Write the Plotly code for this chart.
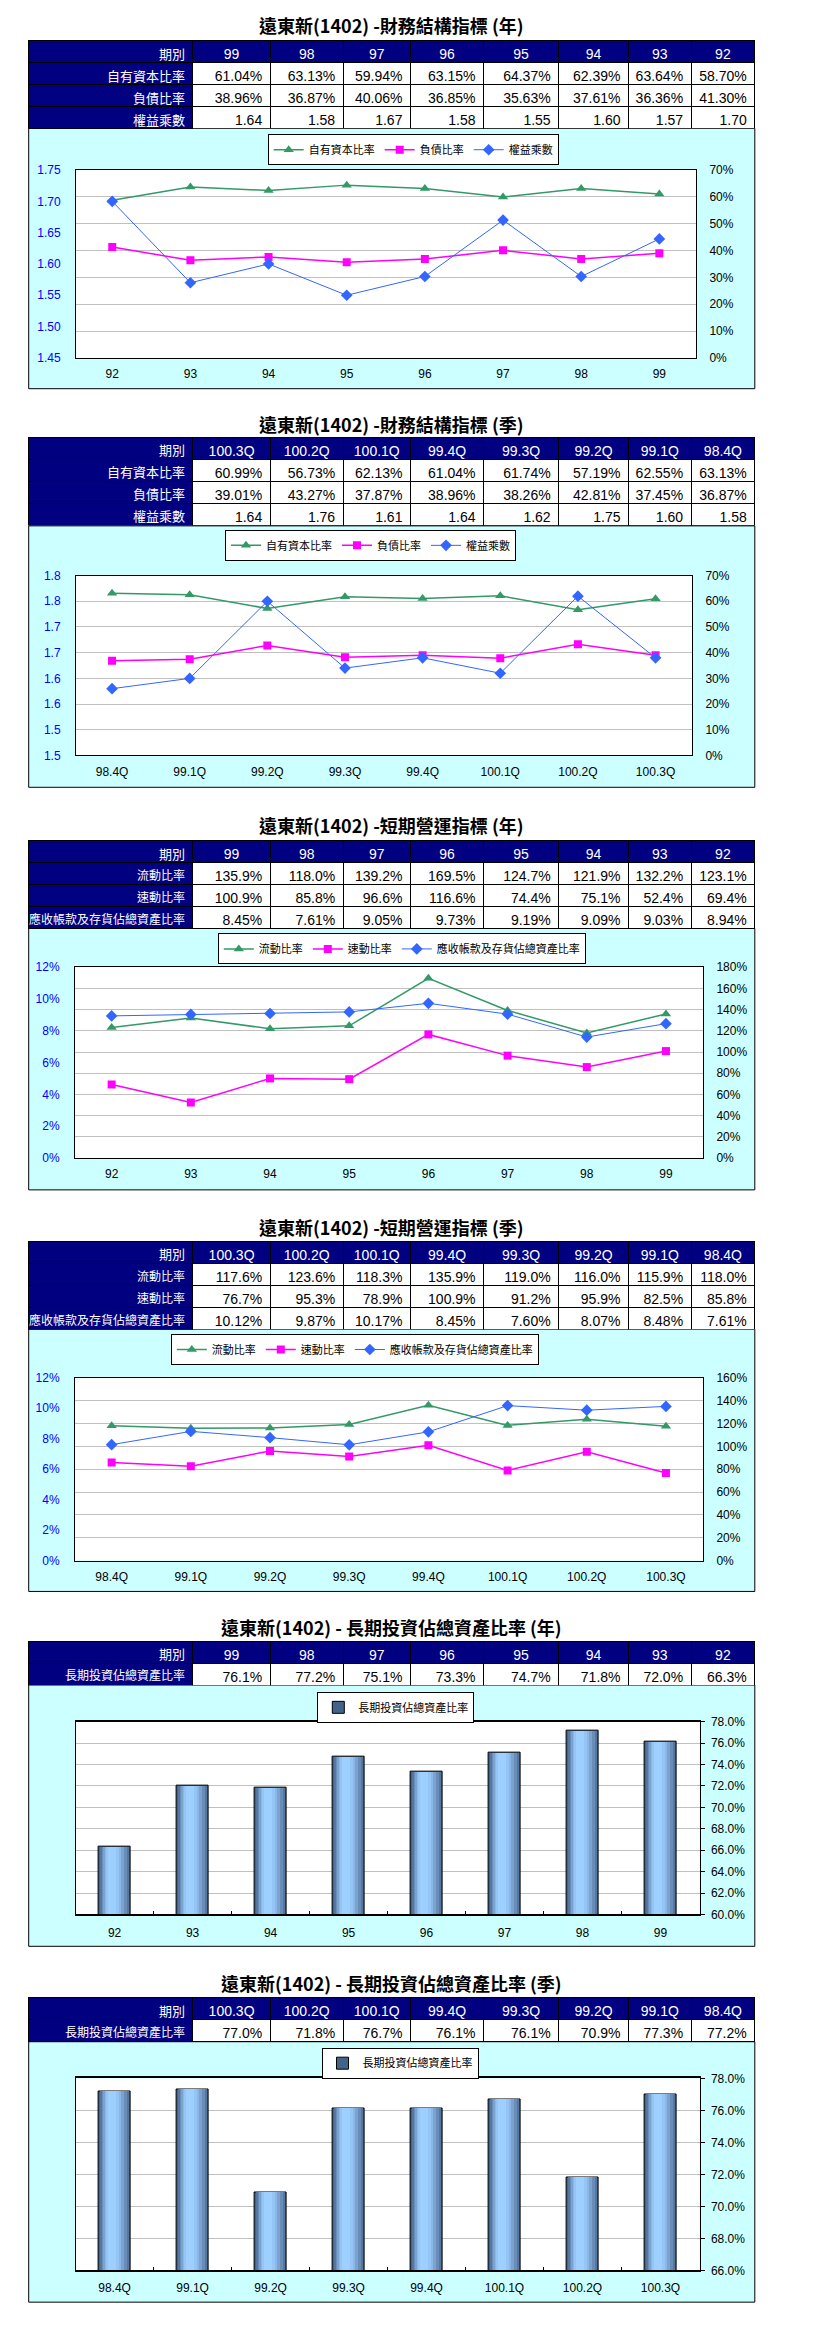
import plotly.graph_objects as go

W, H = 818, 2334
NAVY = '#000080'
FONT = 'Liberation Sans, Noto Sans CJK TC, sans-serif'
CJK = 'Noto Sans CJK TC, Liberation Sans, sans-serif'

# ---------------- data ----------------
years = ['92', '93', '94', '95', '96', '97', '98', '99']
quarters = ['98.4Q', '99.1Q', '99.2Q', '99.3Q', '99.4Q', '100.1Q', '100.2Q', '100.3Q']

titles = [
    '遠東新(1402) -財務結構指標 (年)',
    '遠東新(1402) -財務結構指標 (季)',
    '遠東新(1402) -短期營運指標 (年)',
    '遠東新(1402) -短期營運指標 (季)',
    '遠東新(1402) - 長期投資佔總資產比率 (年)',
    '遠東新(1402) - 長期投資佔總資產比率 (季)',
]

fs_names = ['自有資本比率', '負債比率', '權益乘數']
op_names = ['流動比率', '速動比率', '應收帳款及存貨佔總資產比率']
lt_name = '長期投資佔總資產比率'

# values in chart order (oldest -> newest)
fs_y_equity = [58.70, 63.64, 62.39, 64.37, 63.15, 59.94, 63.13, 61.04]
fs_y_debt = [41.30, 36.36, 37.61, 35.63, 36.85, 40.06, 36.87, 38.96]
fs_y_mult = [1.70, 1.57, 1.60, 1.55, 1.58, 1.67, 1.58, 1.64]

fs_q_equity = [63.13, 62.55, 57.19, 61.74, 61.04, 62.13, 56.73, 60.99]
fs_q_debt = [36.87, 37.45, 42.81, 38.26, 38.96, 37.87, 43.27, 39.01]
fs_q_mult = [1.58, 1.60, 1.75, 1.62, 1.64, 1.61, 1.76, 1.64]

op_y_current = [123.1, 132.2, 121.9, 124.7, 169.5, 139.2, 118.0, 135.9]
op_y_quick = [69.4, 52.4, 75.1, 74.4, 116.6, 96.6, 85.8, 100.9]
op_y_recv = [8.94, 9.03, 9.09, 9.19, 9.73, 9.05, 7.61, 8.45]

op_q_current = [118.0, 115.9, 116.0, 119.0, 135.9, 118.3, 123.6, 117.6]
op_q_quick = [85.8, 82.5, 95.9, 91.2, 100.9, 78.9, 95.3, 76.7]
op_q_recv = [7.61, 8.48, 8.07, 7.60, 8.45, 10.17, 9.87, 10.12]

lt_y = [66.3, 72.0, 71.8, 74.7, 73.3, 75.1, 77.2, 76.1]
lt_q = [77.2, 77.3, 70.9, 76.1, 76.1, 76.7, 71.8, 77.0]

# tick labels
fs_y_left_ticks = [1.45, 1.50, 1.55, 1.60, 1.65, 1.70, 1.75]
fs_y_left_text = ['1.45', '1.50', '1.55', '1.60', '1.65', '1.70', '1.75']
fs_q_left_ticks = [1.45, 1.50, 1.55, 1.60, 1.65, 1.70, 1.75, 1.80]
fs_q_left_text = ['1.5', '1.5', '1.6', '1.6', '1.7', '1.7', '1.8', '1.8']

# ---------------- helpers ----------------
def fx(p):
    return p / W


def fy(p):
    return 1 - p / H


BOX_X0, BOX_X1 = 28.7, 754.8
COLW = [164.3, 77.2, 73.0, 67.3, 73.1, 75.1, 69.9, 62.6, 63.6]
ROWH = 22

fig = go.Figure()
shapes = []
annotations = []
layout_axes = {}


def pct2(v):
    return f'{v:.2f}%'


def pct1(v):
    return f'{v:.1f}%'


def num2(v):
    return f'{v:.2f}'


def add_table(periods, rows, top, label_size=13):
    """rows: list of (label, values in chart order, formatter)"""
    n = len(rows)
    tbl_periods = periods[::-1]
    header = ['期別'] + tbl_periods
    cols = [[r[0] for r in rows]]
    for j in range(len(tbl_periods)):
        cols.append([r[2](r[1][::-1][j]) for r in rows])
    sizes = [label_size] + [14] * len(tbl_periods)
    fills = [[NAVY] * n] + [['white'] * n for _ in tbl_periods]
    fcolors = ['white'] + ['black'] * len(tbl_periods)
    fig.add_trace(go.Table(
        columnwidth=COLW,
        header=dict(values=header, fill_color=NAVY, height=ROWH,
                    align=['right'] + ['center'] * len(tbl_periods),
                    font=dict(color='white', size=[13] + [14] * len(tbl_periods), family=FONT),
                    line=dict(color='black', width=1)),
        cells=dict(values=cols, fill_color=fills, height=ROWH, align='right',
                   font=dict(color=fcolors, size=sizes, family=FONT),
                   line=dict(color='black', width=1)),
        domain=dict(x=[fx(BOX_X0), fx(BOX_X1)],
                    y=[fy(top + ROWH * (n + 1) + 1), fy(top)]),
    ))


def add_title(text, yc):
    annotations.append(dict(text=f'<b>{text}</b>', x=fx(391.7), y=fy(yc), xref='paper', yref='paper',
                            xanchor='center', yanchor='middle', showarrow=False,
                            font=dict(size=18, family=CJK, color='black')))


def add_box(y0, y1):
    shapes.append(dict(type='rect', xref='paper', yref='paper', x0=fx(BOX_X0), x1=fx(BOX_X1),
                       y0=fy(y1), y1=fy(y0), fillcolor='#CCFFFF', line=dict(color='black', width=1),
                       layer='below'))


def add_plotbg(xn, yn):
    shapes.append(dict(type='rect', xref=f'{xn} domain', yref=f'{yn} domain', x0=0, x1=1, y0=0, y1=1,
                       fillcolor='white', line=dict(width=0), layer='below'))


def legend_cfg(cx, top):
    return dict(x=fx(cx), y=fy(top), xanchor='center', yanchor='top', orientation='h',
                bgcolor='white', bordercolor='black', borderwidth=1,
                font=dict(size=11, family=CJK, color='black'), itemwidth=30,
                tracegroupgap=0)


def axname(prefix, k):
    return prefix if k == 1 else f'{prefix}{k}'


def line_section(k, cats, series, plot, main_y, ov_y, legend_pos):
    """series: list of (name, values, color, symbol, msize, lwidth, on_overlay)"""
    xn = axname('x', k)
    ymn = axname('y', 2 * k - 1)
    yon = axname('y', 2 * k)
    leg = axname('legend', k)
    x0, x1, ytop, ybot = plot
    layout_axes[axname('xaxis', k)] = dict(
        domain=[fx(x0), fx(x1)], anchor=ymn, type='category', showline=True, linecolor='black',
        linewidth=1, mirror=True, ticks='', showgrid=False, zeroline=False,
        tickfont=dict(size=12, family=FONT, color='black'), ticklabelstandoff=5)
    layout_axes[axname('yaxis', 2 * k - 1)] = dict(
        domain=[fy(ybot), fy(ytop)], anchor=xn, side='right', showline=True, mirror=True,
        linecolor='black', linewidth=1, showgrid=True, gridcolor='#C0C0C0', gridwidth=1,
        zeroline=False, ticks='', tickfont=dict(size=12, family=FONT, color='black'),
        ticklabelstandoff=10, **main_y)
    layout_axes[axname('yaxis', 2 * k)] = dict(
        overlaying=ymn, anchor=xn, side='left', showline=False, showgrid=False, zeroline=False,
        ticks='', tickfont=dict(size=12, family=FONT, color='#0000FF'), ticklabelstandoff=14, **ov_y)
    add_plotbg(xn, ymn)
    for name, vals, color, symbol, msize, lw, on_ov in series:
        fig.add_trace(go.Scatter(
            x=cats, y=vals, name=name, mode='lines+markers', xaxis=xn, yaxis=yon if on_ov else ymn,
            line=dict(color=color, width=lw), marker=dict(symbol=symbol, size=msize, color=color),
            legend=leg))
    layout_axes[leg] = legend_cfg(*legend_pos)


BAR_LAYERS = [
    (-0.200, 0.400, '#43648A'),
    (-0.186, 0.362, '#5577A0'),
    (-0.168, 0.318, '#688DB8'),
    (-0.150, 0.265, '#7BA3D0'),
    (-0.130, 0.212, '#8AB7E6'),
    (-0.110, 0.160, '#95C5F6'),
    (-0.088, 0.100, '#9DD0FF'),
]


def bar_section(k, ynum, cats, vals, plot, yrange, legend_pos):
    xn = axname('x', k)
    yn = axname('y', ynum)
    leg = axname('legend', k)
    x0, x1, ytop, ybot = plot
    layout_axes[axname('xaxis', k)] = dict(
        domain=[fx(x0), fx(x1)], anchor=yn, type='category', showline=True, linecolor='black',
        linewidth=1.5, mirror=True, ticks='inside', tickson='boundaries', ticklen=4, tickcolor='black',
        showgrid=False, zeroline=False, tickfont=dict(size=12, family=FONT, color='black'),
        ticklabelstandoff=6)
    layout_axes[axname('yaxis', ynum)] = dict(
        domain=[fy(ybot), fy(ytop)], anchor=xn, side='right', range=yrange, dtick=2, tick0=yrange[0],
        tickformat='.1f', ticksuffix='%', showline=True, mirror=True, linecolor='black', linewidth=1,
        showgrid=True, gridcolor='#C0C0C0', gridwidth=1, zeroline=False, ticks='outside', ticklen=4,
        tickcolor='black', tickfont=dict(size=12, family=FONT, color='black'), ticklabelstandoff=4)
    add_plotbg(xn, yn)
    for i, (off, wd, col) in enumerate(BAR_LAYERS):
        fig.add_trace(go.Bar(
            x=cats, y=vals, name=lt_name, xaxis=xn, yaxis=yn, offset=off, width=wd,
            marker=dict(color=col, line=dict(color='black', width=1 if i == 0 else 0)),
            showlegend=(i == 0), legend=leg, hoverinfo='skip' if i else None))
    layout_axes[leg] = legend_cfg(*legend_pos)


# ---------------- section 1 ----------------
add_title(titles[0], 18)
add_table(years, [(fs_names[0], fs_y_equity, pct2), (fs_names[1], fs_y_debt, pct2),
                  (fs_names[2], fs_y_mult, num2)], 34)
add_box(122, 384)
line_section(1, years,
             [(fs_names[0], fs_y_equity, '#339966', 'triangle-up', 9, 1.5, False),
              (fs_names[1], fs_y_debt, '#FF00FF', 'square', 8, 1.5, False),
              (fs_names[2], fs_y_mult, '#3366FF', 'diamond', 9, 1, True)],
             (75.6, 696.0, 164, 353),
             dict(range=[0, 70], dtick=10, tick0=0, ticksuffix='%'),
             dict(range=[1.45, 1.75], tickvals=fs_y_left_ticks, ticktext=fs_y_left_text),
             (413.2, 128))

# ---------------- section 2 ----------------
add_title(titles[1], 420)
add_table(quarters, [(fs_names[0], fs_q_equity, pct2), (fs_names[1], fs_q_debt, pct2),
                     (fs_names[2], fs_q_mult, num2)], 433)
add_box(522, 785)
line_section(2, quarters,
             [(fs_names[0], fs_q_equity, '#339966', 'triangle-up', 9, 1.5, False),
              (fs_names[1], fs_q_debt, '#FF00FF', 'square', 8, 1.5, False),
              (fs_names[2], fs_q_mult, '#3366FF', 'diamond', 9, 1, True)],
             (75.6, 692.0, 572, 753),
             dict(range=[0, 70], dtick=10, tick0=0, ticksuffix='%'),
             dict(range=[1.45, 1.80], tickvals=fs_q_left_ticks, ticktext=fs_q_left_text),
             (370.5, 526))

# ---------------- section 3 ----------------
add_title(titles[2], 823)
add_table(years, [(op_names[0], op_y_current, pct1), (op_names[1], op_y_quick, pct1),
                  (op_names[2], op_y_recv, pct2)], 839, label_size=12)
add_box(927, 1190)
line_section(3, years,
             [(op_names[0], op_y_current, '#339966', 'triangle-up', 9, 1.5, False),
              (op_names[1], op_y_quick, '#FF00FF', 'square', 8, 1.5, False),
              (op_names[2], op_y_recv, '#3366FF', 'diamond', 9, 1, True)],
             (74.6, 703.0, 966, 1158),
             dict(range=[0, 180], dtick=20, tick0=0, ticksuffix='%'),
             dict(range=[0, 12], dtick=2, tick0=0, ticksuffix='%'),
             (401.8, 932))

# ---------------- section 4 ----------------
add_title(titles[3], 1227)
add_table(quarters, [(op_names[0], op_q_current, pct1), (op_names[1], op_q_quick, pct1),
                     (op_names[2], op_q_recv, pct2)], 1242, label_size=12)
add_box(1330, 1594)
line_section(4, quarters,
             [(op_names[0], op_q_current, '#339966', 'triangle-up', 9, 1.5, False),
              (op_names[1], op_q_quick, '#FF00FF', 'square', 8, 1.5, False),
              (op_names[2], op_q_recv, '#3366FF', 'diamond', 9, 1, True)],
             (74.6, 703.0, 1379, 1563),
             dict(range=[0, 160], dtick=20, tick0=0, ticksuffix='%'),
             dict(range=[0, 12], dtick=2, tick0=0, ticksuffix='%'),
             (354.8, 1335))

# ---------------- section 5 ----------------
add_title(titles[4], 1630)
add_table(years, [(lt_name, lt_y, pct1)], 1644, label_size=12)
add_box(1688, 1951)
bar_section(5, 9, years, lt_y, (75.6, 699.5, 1725, 1919), [60, 78], (395.8, 1695))

# ---------------- section 6 ----------------
add_title(titles[5], 1988)
add_table(quarters, [(lt_name, lt_q, pct1)], 2003, label_size=12)
add_box(2047, 2309)
bar_section(6, 10, quarters, lt_q, (75.6, 699.5, 2084, 2277), [66, 78], (400.0, 2053))

fig.update_layout(
    width=W, height=H, autosize=False,
    margin=dict(l=0, r=0, t=0, b=0, pad=0),
    paper_bgcolor='white', plot_bgcolor='rgba(0,0,0,0)',
    barmode='overlay', bargap=0,
    font=dict(family=FONT, size=12, color='black'),
    shapes=shapes, annotations=annotations,
    **layout_axes,
)

fig.write_html("out.html", config={'displayModeBar': False},
               post_script="document.body.style.margin='0';document.body.style.overflow='hidden';")
